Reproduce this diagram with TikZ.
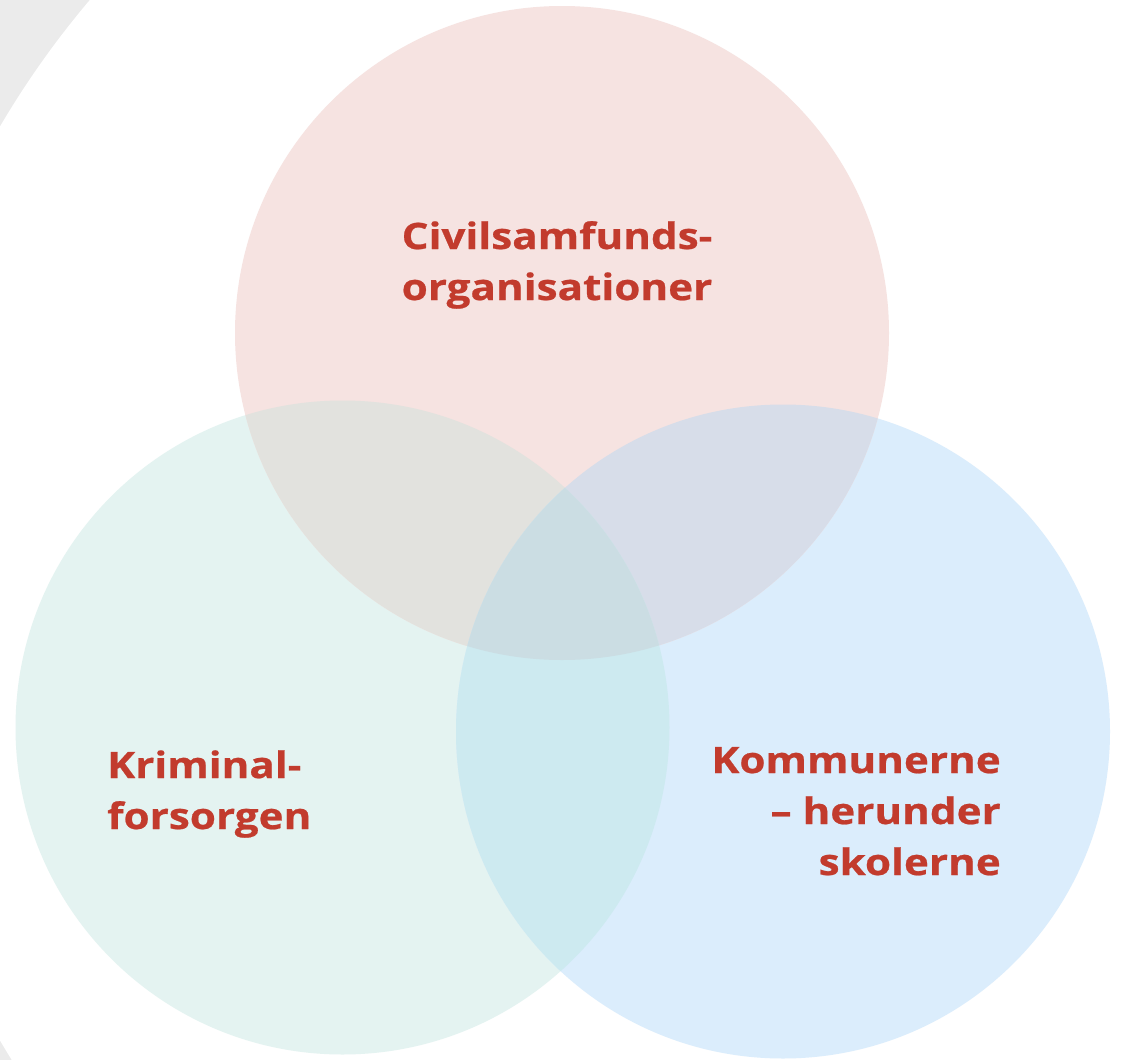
\documentclass[tikz,border=0pt]{standalone}
\usepackage{fontspec}
\setmainfont{Open Sans}[BoldFont={Open Sans Bold}, BoldFeatures={FakeStretch=1.16, FakeBold=0.6}]
\definecolor{greybg}{HTML}{EBEBEB}
\definecolor{cpink}{HTML}{F6E3E1}
\definecolor{cmint}{HTML}{E4F3F1}
\definecolor{cblue}{HTML}{DBEDFC}
\definecolor{cpm}{HTML}{E2E2DE}
\definecolor{cpb}{HTML}{D7DDE9}
\definecolor{cmb}{HTML}{CDEAF0}
\definecolor{cpmb}{HTML}{CBDDE3}
\definecolor{txtred}{HTML}{C23B2D}
\tikzset{
  lbl/.style={text=txtred, font=\fontsize{36.4}{51}\selectfont\bfseries, inner sep=0pt},
}
\begin{document}
\begin{tikzpicture}[x=1pt,y=-1pt]
\useasboundingbox (0,0) rectangle (1125,1060);
\fill[greybg] (0,0) rectangle (1125,1060);
\fill[white] (779,583.5) circle[radius=903pt];
\def\cP{(562,333) circle[radius=327pt]}
\def\cM{(342.5,727.5) circle[radius=327pt]}
\def\cB{(783,731.5) circle[radius=327pt]}
\fill[cmint] \cM;
\fill[cblue] \cB;
\fill[cpink] \cP;
\begin{scope}\clip \cP; \fill[cpm] \cM; \end{scope}
\begin{scope}\clip \cP; \fill[cpb] \cB; \end{scope}
\begin{scope}\clip \cM; \fill[cmb] \cB; \end{scope}
\begin{scope}\clip \cP; \clip \cM; \fill[cpmb] \cB; \end{scope}
\node[lbl, anchor=base, align=center] (civ) at (557,300) {Civilsamfunds-\\organisationer};
\node[lbl, anchor=base west, align=left] (krim) at (107,829) {Kriminal-\\forsorgen};
\node[lbl, anchor=base east, align=right] (komm) at (1001,875) {Kommunerne\\– herunder\\skolerne};
\end{tikzpicture}
\end{document}
